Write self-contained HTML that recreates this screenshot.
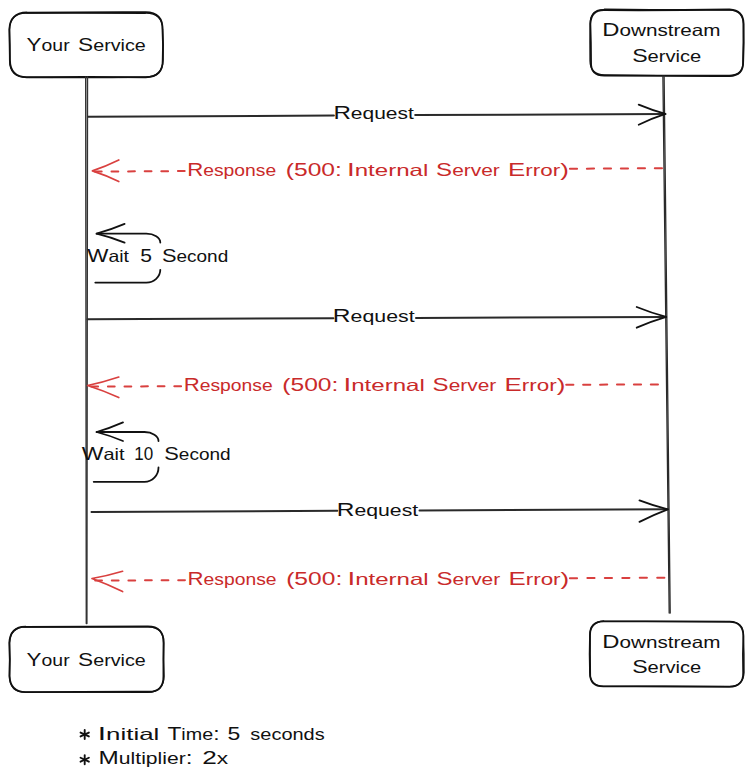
<!DOCTYPE html>
<html><head><meta charset="utf-8"><style>
html,body{margin:0;padding:0;background:#fff;width:753px;height:781px;overflow:hidden}
svg{display:block}
text{font-family:"Liberation Sans",sans-serif}
</style></head><body>
<svg width="753" height="781" viewBox="0 0 753 781">
<rect width="753" height="781" fill="#fff"/>
<path d="M26.74 12.74 Q86.24 12.02 145.74 12.19 Q163.08 12.39 162.50 29.63 Q163.43 44.87 162.71 60.11 Q163.08 77.09 145.74 77.23 Q86.24 76.62 26.74 77.23 Q10.11 77.13 9.96 60.11 Q9.98 44.87 9.35 29.63 Q10.00 12.72 26.74 12.45" fill="none" stroke="#111" stroke-width="1.80" stroke-linejoin="round" stroke-linecap="round"/>
<path d="M26.62 13.16 Q86.16 13.12 145.70 13.20 Q162.59 13.12 162.65 29.82 Q163.31 45.11 163.04 60.39 Q162.29 77.03 145.70 77.14 Q86.16 78.05 26.62 77.34 Q9.75 77.20 9.63 60.39 Q9.46 45.11 9.48 29.82 Q9.70 12.90 26.62 13.18" fill="none" stroke="#111" stroke-width="1.35" stroke-linejoin="round" stroke-linecap="round"/>
<path d="M604.67 10.16 Q667.09 10.54 729.51 9.52 Q743.48 10.39 743.64 23.95 Q744.07 43.02 743.16 62.10 Q743.48 75.85 729.51 76.14 Q667.09 76.20 604.67 75.66 Q590.39 75.88 591.05 62.10 Q591.05 43.02 590.37 23.95 Q590.97 9.58 604.67 10.05" fill="none" stroke="#111" stroke-width="1.80" stroke-linejoin="round" stroke-linecap="round"/>
<path d="M604.38 9.24 Q666.82 10.18 729.27 9.84 Q743.06 9.96 743.31 23.50 Q743.52 42.28 743.01 61.07 Q743.71 75.26 729.27 75.49 Q666.82 75.62 604.38 74.89 Q590.24 74.73 590.06 61.07 Q589.77 42.28 590.20 23.50 Q590.48 9.00 604.38 9.66" fill="none" stroke="#111" stroke-width="1.35" stroke-linejoin="round" stroke-linecap="round"/>
<path d="M25.69 626.92 Q86.75 626.70 147.82 626.49 Q163.82 626.43 163.76 642.89 Q163.21 659.47 163.45 676.05 Q163.74 692.38 147.82 691.71 Q86.75 691.66 25.69 692.16 Q10.14 692.13 9.60 676.05 Q10.36 659.47 9.29 642.89 Q10.05 626.68 25.69 626.57" fill="none" stroke="#111" stroke-width="1.80" stroke-linejoin="round" stroke-linecap="round"/>
<path d="M25.57 627.06 Q86.70 627.18 147.82 626.87 Q163.87 626.55 163.43 642.99 Q163.41 659.61 163.99 676.23 Q163.75 692.04 147.82 692.31 Q86.70 692.16 25.57 692.05 Q9.87 692.43 9.34 676.23 Q9.67 659.61 9.59 642.99 Q9.95 627.21 25.57 626.79" fill="none" stroke="#111" stroke-width="1.35" stroke-linejoin="round" stroke-linecap="round"/>
<path d="M603.78 621.08 Q666.53 621.53 729.29 621.88 Q742.87 621.58 743.39 635.52 Q742.65 654.07 743.18 672.62 Q743.49 686.57 729.29 686.82 Q666.53 686.14 603.78 686.38 Q589.39 686.62 590.16 672.62 Q589.90 654.07 590.02 635.52 Q589.66 621.77 603.78 621.17" fill="none" stroke="#111" stroke-width="1.80" stroke-linejoin="round" stroke-linecap="round"/>
<path d="M603.67 621.33 Q666.66 621.38 729.66 621.44 Q743.44 622.01 743.38 635.70 Q744.20 654.07 744.00 672.44 Q743.21 686.32 729.66 686.43 Q666.66 685.77 603.67 686.37 Q590.08 686.05 589.76 672.44 Q589.14 654.07 589.75 635.70 Q590.07 621.41 603.67 621.26" fill="none" stroke="#111" stroke-width="1.35" stroke-linejoin="round" stroke-linecap="round"/>
<line x1="85.7" y1="77" x2="86.3" y2="623.5" stroke="#333" stroke-width="1.4" stroke-linecap="round"/>
<line x1="87.5" y1="77" x2="86.9" y2="623.5" stroke="#333" stroke-width="1.4" stroke-linecap="round"/>
<line x1="662.9" y1="76" x2="669.2" y2="613" stroke="#2a2a2a" stroke-width="1.3" stroke-linecap="round"/>
<line x1="664.1" y1="76" x2="670.2" y2="613" stroke="#2a2a2a" stroke-width="1.3" stroke-linecap="round"/>
<line x1="88" y1="116.7" x2="333.9" y2="115.50755109109804" stroke="#2a2a2a" stroke-width="2" stroke-linecap="round"/>
<line x1="415.2" y1="115.11330100450294" x2="665.4" y2="113.9" stroke="#2a2a2a" stroke-width="2" stroke-linecap="round"/>
<path d="M638.7 104.7 Q652.05 110.30000000000001 665.4 113.9 Q652.05 118.30000000000001 638.7 124.7" fill="none" stroke="#111" stroke-width="1.8" stroke-linecap="round" stroke-linejoin="round"/>
<line x1="87.5" y1="319.2" x2="333.4" y2="318.2226887852082" stroke="#2a2a2a" stroke-width="2" stroke-linecap="round"/>
<line x1="416.0" y1="317.89440124416797" x2="666.2" y2="316.9" stroke="#2a2a2a" stroke-width="2" stroke-linecap="round"/>
<path d="M636.7 307 Q651.45 312.95 666.2 316.9 Q651.45 321.29999999999995 636.7 327.7" fill="none" stroke="#111" stroke-width="1.8" stroke-linecap="round" stroke-linejoin="round"/>
<line x1="91.5" y1="512" x2="337.3" y2="510.84841228526807" stroke="#2a2a2a" stroke-width="2" stroke-linecap="round"/>
<line x1="419.5" y1="510.46330036439355" x2="667.8" y2="509.3" stroke="#2a2a2a" stroke-width="2" stroke-linecap="round"/>
<path d="M639.5 500.4 Q653.65 505.85 667.8 509.3 Q653.65 514.6 639.5 521.9" fill="none" stroke="#111" stroke-width="1.8" stroke-linecap="round" stroke-linejoin="round"/>
<line x1="569.9" y1="168.75" x2="662" y2="168.2" stroke="#d9403f" stroke-width="2" stroke-linecap="round" stroke-dasharray="7.2 9.780"/>
<line x1="184.7" y1="171.05" x2="92.4" y2="171.6" stroke="#d9403f" stroke-width="2" stroke-linecap="round" stroke-dasharray="6.8 9.8"/>
<path d="M118.8 160 Q105.6 166.45 92.4 170.9 Q105.6 175.2 118.8 181.5" fill="none" stroke="#d9403f" stroke-width="1.7" stroke-linecap="round" stroke-linejoin="round"/>
<line x1="566.2" y1="384.76" x2="658" y2="384.4" stroke="#d9403f" stroke-width="2" stroke-linecap="round" stroke-dasharray="7.2 9.720"/>
<line x1="181.1" y1="386.24" x2="87.6" y2="386.6" stroke="#d9403f" stroke-width="2" stroke-linecap="round" stroke-dasharray="6.8 9.8"/>
<path d="M118.8 377 Q103.19999999999999 382.25 87.6 385.5 Q103.19999999999999 390.5 118.8 397.5" fill="none" stroke="#d9403f" stroke-width="1.7" stroke-linecap="round" stroke-linejoin="round"/>
<line x1="569.9" y1="578.18" x2="664.4" y2="577.7" stroke="#d9403f" stroke-width="2" stroke-linecap="round" stroke-dasharray="7.2 10.260"/>
<line x1="185.0" y1="580.13" x2="92" y2="580.6" stroke="#d9403f" stroke-width="2" stroke-linecap="round" stroke-dasharray="6.8 9.8"/>
<path d="M122.6 571.3 Q107.3 575.9 92 578.5 Q107.3 584.05 122.6 591.6" fill="none" stroke="#d9403f" stroke-width="1.7" stroke-linecap="round" stroke-linejoin="round"/>
<path d="M95.3 282.6 L146.3 282.6 A14 12.800000000000011 0 0 0 160.3 269.8" fill="none" stroke="#111" stroke-width="1.8" stroke-linecap="round" stroke-linejoin="round"/>
<path d="M160.3 242.6 A14 8.900000000000006 0 0 0 146.3 233.7 L96.6 233.7" fill="none" stroke="#111" stroke-width="1.8" stroke-linecap="round" stroke-linejoin="round"/>
<path d="M124.6 223.9 Q110.6 229.8 96.6 233.7 Q110.6 237.14999999999998 124.6 242.6" fill="none" stroke="#111" stroke-width="1.8" stroke-linecap="round" stroke-linejoin="round"/>
<path d="M93.7 481.8 L144.5 481.8 A14 14.400000000000034 0 0 0 158.5 467.4" fill="none" stroke="#111" stroke-width="1.8" stroke-linecap="round" stroke-linejoin="round"/>
<path d="M158.5 441 A14 9 0 0 0 144.5 432 L96.6 432" fill="none" stroke="#111" stroke-width="1.8" stroke-linecap="round" stroke-linejoin="round"/>
<path d="M123 422.4 Q109.8 428.2 96.6 432 Q109.8 435.5 123 441" fill="none" stroke="#111" stroke-width="1.8" stroke-linecap="round" stroke-linejoin="round"/>
<text x="26.61" y="50.8" font-size="18" fill="#111" textLength="43.01" lengthAdjust="spacingAndGlyphs"><tspan font-size="19.0">Y</tspan><tspan font-size="16.5">our</tspan></text>
<text x="78.07" y="50.8" font-size="18" fill="#111" textLength="67.71" lengthAdjust="spacingAndGlyphs"><tspan font-size="19.0">S</tspan><tspan font-size="16.5">ervice</tspan></text>
<text x="602.25" y="36.2" font-size="18" fill="#111" textLength="118.32" lengthAdjust="spacingAndGlyphs"><tspan font-size="19.0">D</tspan><tspan font-size="16.5">ownstream</tspan></text>
<text x="632.15" y="61.5" font-size="18" fill="#111" textLength="69.15" lengthAdjust="spacingAndGlyphs"><tspan font-size="19.0">S</tspan><tspan font-size="16.5">ervice</tspan></text>
<text x="333.42" y="119.1" font-size="18" fill="#111" textLength="80.44" lengthAdjust="spacingAndGlyphs"><tspan font-size="19.0">R</tspan><tspan font-size="16.5">equest</tspan></text>
<text x="187.18" y="176" font-size="18" fill="#c92a2a" textLength="88.98" lengthAdjust="spacingAndGlyphs"><tspan font-size="19.0">R</tspan><tspan font-size="16.5">esponse</tspan></text>
<text x="285.77" y="176" font-size="18" fill="#c92a2a" textLength="56.07" lengthAdjust="spacingAndGlyphs"><tspan font-size="19.0">(500:</tspan></text>
<text x="347.04" y="176" font-size="18" fill="#c92a2a" textLength="81.27" lengthAdjust="spacingAndGlyphs"><tspan font-size="19.0">I</tspan><tspan font-size="16.5">nternal</tspan></text>
<text x="436.11" y="176" font-size="18" fill="#c92a2a" textLength="63.64" lengthAdjust="spacingAndGlyphs"><tspan font-size="19.0">S</tspan><tspan font-size="16.5">erver</tspan></text>
<text x="508.08" y="176" font-size="18" fill="#c92a2a" textLength="60.72" lengthAdjust="spacingAndGlyphs"><tspan font-size="19.0">E</tspan><tspan font-size="16.5">rror</tspan><tspan font-size="19.0">)</tspan></text>
<text x="87.30" y="261.9" font-size="18" fill="#111" textLength="41.74" lengthAdjust="spacingAndGlyphs"><tspan font-size="19.0">W</tspan><tspan font-size="16.5">ait</tspan></text>
<text x="140.36" y="261.9" font-size="18" fill="#111" textLength="11.73" lengthAdjust="spacingAndGlyphs"><tspan font-size="19.0">5</tspan></text>
<text x="161.91" y="261.9" font-size="18" fill="#111" textLength="66.32" lengthAdjust="spacingAndGlyphs"><tspan font-size="19.0">S</tspan><tspan font-size="16.5">econd</tspan></text>
<text x="332.89" y="321.9" font-size="18" fill="#111" textLength="81.77" lengthAdjust="spacingAndGlyphs"><tspan font-size="19.0">R</tspan><tspan font-size="16.5">equest</tspan></text>
<text x="183.68" y="390.5" font-size="18" fill="#c92a2a" textLength="88.98" lengthAdjust="spacingAndGlyphs"><tspan font-size="19.0">R</tspan><tspan font-size="16.5">esponse</tspan></text>
<text x="282.27" y="390.5" font-size="18" fill="#c92a2a" textLength="56.07" lengthAdjust="spacingAndGlyphs"><tspan font-size="19.0">(500:</tspan></text>
<text x="343.54" y="390.5" font-size="18" fill="#c92a2a" textLength="81.27" lengthAdjust="spacingAndGlyphs"><tspan font-size="19.0">I</tspan><tspan font-size="16.5">nternal</tspan></text>
<text x="432.61" y="390.5" font-size="18" fill="#c92a2a" textLength="63.64" lengthAdjust="spacingAndGlyphs"><tspan font-size="19.0">S</tspan><tspan font-size="16.5">erver</tspan></text>
<text x="504.58" y="390.5" font-size="18" fill="#c92a2a" textLength="60.72" lengthAdjust="spacingAndGlyphs"><tspan font-size="19.0">E</tspan><tspan font-size="16.5">rror</tspan><tspan font-size="19.0">)</tspan></text>
<text x="81.80" y="459.9" font-size="18" fill="#111" textLength="42.75" lengthAdjust="spacingAndGlyphs"><tspan font-size="19.0">W</tspan><tspan font-size="16.5">ait</tspan></text>
<text x="134.20" y="459.9" font-size="18" fill="#111" textLength="18.96" lengthAdjust="spacingAndGlyphs"><tspan font-size="19.0">10</tspan></text>
<text x="164.21" y="459.9" font-size="18" fill="#111" textLength="66.42" lengthAdjust="spacingAndGlyphs"><tspan font-size="19.0">S</tspan><tspan font-size="16.5">econd</tspan></text>
<text x="336.80" y="515.9" font-size="18" fill="#111" textLength="81.36" lengthAdjust="spacingAndGlyphs"><tspan font-size="19.0">R</tspan><tspan font-size="16.5">equest</tspan></text>
<text x="187.58" y="585.1" font-size="18" fill="#c92a2a" textLength="88.98" lengthAdjust="spacingAndGlyphs"><tspan font-size="19.0">R</tspan><tspan font-size="16.5">esponse</tspan></text>
<text x="286.17" y="585.1" font-size="18" fill="#c92a2a" textLength="56.07" lengthAdjust="spacingAndGlyphs"><tspan font-size="19.0">(500:</tspan></text>
<text x="347.44" y="585.1" font-size="18" fill="#c92a2a" textLength="81.27" lengthAdjust="spacingAndGlyphs"><tspan font-size="19.0">I</tspan><tspan font-size="16.5">nternal</tspan></text>
<text x="436.51" y="585.1" font-size="18" fill="#c92a2a" textLength="63.64" lengthAdjust="spacingAndGlyphs"><tspan font-size="19.0">S</tspan><tspan font-size="16.5">erver</tspan></text>
<text x="508.48" y="585.1" font-size="18" fill="#c92a2a" textLength="60.72" lengthAdjust="spacingAndGlyphs"><tspan font-size="19.0">E</tspan><tspan font-size="16.5">rror</tspan><tspan font-size="19.0">)</tspan></text>
<text x="26.61" y="665.8" font-size="18" fill="#111" textLength="43.01" lengthAdjust="spacingAndGlyphs"><tspan font-size="19.0">Y</tspan><tspan font-size="16.5">our</tspan></text>
<text x="78.07" y="665.8" font-size="18" fill="#111" textLength="67.71" lengthAdjust="spacingAndGlyphs"><tspan font-size="19.0">S</tspan><tspan font-size="16.5">ervice</tspan></text>
<text x="602.25" y="648.0" font-size="18" fill="#111" textLength="118.32" lengthAdjust="spacingAndGlyphs"><tspan font-size="19.0">D</tspan><tspan font-size="16.5">ownstream</tspan></text>
<text x="632.15" y="673.3" font-size="18" fill="#111" textLength="69.15" lengthAdjust="spacingAndGlyphs"><tspan font-size="19.0">S</tspan><tspan font-size="16.5">ervice</tspan></text>
<text x="97.85" y="739.5" font-size="18" fill="#111" textLength="61.48" lengthAdjust="spacingAndGlyphs"><tspan font-size="19.0">I</tspan><tspan font-size="16.5">nitial</tspan></text>
<text x="167.49" y="739.5" font-size="18" fill="#111" textLength="51.98" lengthAdjust="spacingAndGlyphs"><tspan font-size="19.0">T</tspan><tspan font-size="16.5">ime</tspan><tspan font-size="19.0">:</tspan></text>
<text x="227.58" y="739.5" font-size="18" fill="#111" textLength="12.79" lengthAdjust="spacingAndGlyphs"><tspan font-size="19.0">5</tspan></text>
<text x="250.34" y="739.5" font-size="18" fill="#111" textLength="74.38" lengthAdjust="spacingAndGlyphs"><tspan font-size="16.5">seconds</tspan></text>
<text x="98.61" y="763.5" font-size="18" fill="#111" textLength="93.92" lengthAdjust="spacingAndGlyphs"><tspan font-size="19.0">M</tspan><tspan font-size="16.5">ultiplier</tspan><tspan font-size="19.0">:</tspan></text>
<text x="202.28" y="763.5" font-size="18" fill="#111" textLength="25.96" lengthAdjust="spacingAndGlyphs"><tspan font-size="19.0">2</tspan><tspan font-size="16.5">x</tspan></text>
<line x1="84.7" y1="729.9" x2="84.7" y2="739.1" stroke="#111" stroke-width="1.9" stroke-linecap="round"/>
<line x1="80.53" y1="732.56" x2="88.87" y2="736.44" stroke="#111" stroke-width="1.9" stroke-linecap="round"/>
<line x1="88.87" y1="732.56" x2="80.53" y2="736.44" stroke="#111" stroke-width="1.9" stroke-linecap="round"/>
<line x1="84.7" y1="755.1" x2="84.7" y2="764.3" stroke="#111" stroke-width="1.9" stroke-linecap="round"/>
<line x1="80.53" y1="757.76" x2="88.87" y2="761.64" stroke="#111" stroke-width="1.9" stroke-linecap="round"/>
<line x1="88.87" y1="757.76" x2="80.53" y2="761.64" stroke="#111" stroke-width="1.9" stroke-linecap="round"/>
</svg>
</body></html>
